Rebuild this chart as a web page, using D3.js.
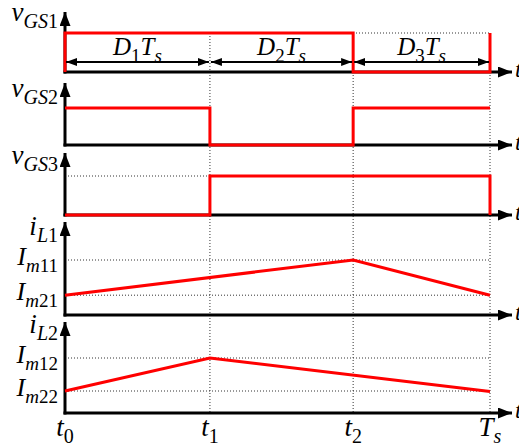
<!DOCTYPE html>
<html><head><meta charset="utf-8">
<script src="https://cdn.jsdelivr.net/npm/d3@7.9.0/dist/d3.min.js"></script>
<style>
body{margin:0;background:#fff}
</style></head><body>
<svg id="chart" width="519" height="445"></svg>
<script>
// switching instants over one period (fraction of Ts)
const tickNames = [["t","0"],["t","1"],["t","2"],["T","s"]];
const tickTimes = [0, 0.341, 0.678, 1];
const dutyNames = [["D","1"],["D","2"],["D","3"]];
// gate levels: before t0, from t0, from t1, from t2, at Ts
const vgs1 = [0, 1, 1, 0, 1];
const vgs2 = [1, 1, 0, 1, 1];
const vgs3 = [0, 0, 1, 1, 0];
// inductor currents, relative to their peak, at the listed instants
const iL1At = [0, 2, 3];
const iL1 = [0.36, 1, 0.36];
const iL2At = [0, 1, 3];
const iL2 = [0.4, 1, 0.39];
const iL1Levels = [["m11", 1], ["m21", 0.36]];
const iL2Levels = [["m12", 1], ["m22", 0.4]];

const svg = d3.select("#chart");
const x = d3.scaleLinear().domain([0, 1]).range([65, 490]);
const xEnd = 512;
const RED = "#ff0000";
const FONT = '"Liberation Serif", "Times New Roman", serif';

const defs = svg.append("defs");
function marker(id, w, h) {
  defs.append("marker").attr("id", id)
    .attr("viewBox", `0 0 ${w} ${h}`).attr("refX", w).attr("refY", h / 2)
    .attr("markerWidth", w).attr("markerHeight", h)
    .attr("markerUnits", "userSpaceOnUse").attr("orient", "auto-start-reverse")
    .append("path").attr("d", `M0,0L${w},${h / 2}L0,${h}Z`).attr("fill", "#000");
}
marker("ax", 14, 11);
marker("dim", 11, 8);

// italic letters, upright digits, subscripts dropped
function mathText(g, px, py, parts, size, subSize, anchor, drop) {
  const dy = drop || size * 0.3;
  const t = g.append("text").attr("x", px).attr("y", py)
    .style("font-family", FONT).attr("fill", "#000")
    .attr("font-size", size).attr("text-anchor", anchor || "start");
  let down = false;
  parts.forEach(([s, sub]) => {
    const chunks = s.match(/\d+|\D+/g);
    chunks.forEach((c, j) => {
      const ts = t.append("tspan").text(c)
        .style("font-style", /\d/.test(c) ? "normal" : "italic");
      if (sub) ts.attr("font-size", subSize);
      if (j === 0) {
        if (sub && !down) { ts.attr("dy", dy); down = true; }
        else if (!sub && down) { ts.attr("dy", -dy); down = false; }
      }
    });
  });
  return t;
}

const panels = [
  {type: "gate", data: vgs1, lab: [["v"], ["GS1", 1]], base: 72, top: 33, tip: 12, labY: 21, dotFull: true},
  {type: "gate", data: vgs2, lab: [["v"], ["GS2", 1]], base: 145, top: 108, tip: 83, labY: 97},
  {type: "gate", data: vgs3, lab: [["v"], ["GS3", 1]], base: 215, top: 176, tip: 153, labY: 164, dotFull: true},
  {type: "cur", at: iL1At, data: iL1, levels: iL1Levels, lab: [["i"], ["L1", 1]], base: 315, top: 260, tip: 222, labY: 235},
  {type: "cur", at: iL2At, data: iL2, levels: iL2Levels, lab: [["i"], ["L2", 1]], base: 413, top: 358, tip: 322, labY: 333}
];

const dot = "1,2";
// vertical guides
svg.append("g").selectAll("line").data(tickTimes.slice(1)).join("line")
  .attr("x1", d => x(d)).attr("x2", d => x(d)).attr("y1", 33).attr("y2", 413)
  .attr("stroke", "#333").attr("stroke-width", 1).attr("stroke-dasharray", dot);

panels.forEach(p => {
  const y = d3.scaleLinear().domain([0, 1]).range([p.base, p.top]);
  const g = svg.append("g");
  if (p.type === "gate" && p.dotFull) {
    g.append("line").attr("x1", x(0)).attr("x2", x(1)).attr("y1", y(1)).attr("y2", y(1))
      .attr("stroke", "#333").attr("stroke-dasharray", dot);
  }
  if (p.type === "cur") {
    g.selectAll("line.lv").data(p.levels).join("line").attr("class", "lv")
      .attr("x1", x(0)).attr("x2", x(1)).attr("y1", d => y(d[1])).attr("y2", d => y(d[1]))
      .attr("stroke", "#333").attr("stroke-dasharray", dot);
    p.levels.forEach(([s, v]) => mathText(g, 58, y(v) + 5, [["I"], [s, 1]], 26, 19, "end", 7));
  }
  // axes
  g.append("line").attr("x1", x(0)).attr("x2", x(0)).attr("y1", p.base + 1.5).attr("y2", p.tip)
    .attr("stroke", "#000").attr("stroke-width", 3).attr("marker-end", "url(#ax)");
  g.append("line").attr("x1", x(0) - 1.5).attr("x2", xEnd).attr("y1", p.base).attr("y2", p.base)
    .attr("stroke", "#000").attr("stroke-width", 3).attr("marker-end", "url(#ax)");
  mathText(g, 515, p.base + 5, [["t"]], 24, 18);
  mathText(g, 58, p.labY, p.lab, 27, 20, "end", 7);
  // signal
  let pts, line;
  if (p.type === "gate") {
    pts = [[0, p.data[0]]].concat(tickTimes.map((t, i) => [t, p.data[i + 1]]));
    line = d3.line().x(d => x(d[0])).y(d => y(d[1])).curve(d3.curveStepAfter);
  } else {
    pts = p.at.map((k, i) => [tickTimes[k], p.data[i]]);
    line = d3.line().x(d => x(d[0])).y(d => y(d[1]));
  }
  g.append("path").attr("d", line(pts))
    .attr("fill", "none").attr("stroke", RED).attr("stroke-width", 3);
});

// duty-cycle dimension arrows
const dimY = 62;
const dims = dutyNames.map((d, i) => ({name: d, a: tickTimes[i], b: tickTimes[i + 1]}));
const dg = svg.append("g");
dg.selectAll("line").data(dims).join("line")
  .attr("x1", d => x(d.a) + 1).attr("x2", d => x(d.b) - 1).attr("y1", dimY).attr("y2", dimY)
  .attr("stroke", "#000").attr("stroke-width", 2)
  .attr("marker-start", "url(#dim)").attr("marker-end", "url(#dim)");
dims.forEach(d => mathText(dg, (x(d.a) + x(d.b)) / 2, dimY - 7, [[d.name[0]], [d.name[1], 1], ["T"], ["s", 1]], 25, 19, "middle", 7));

// time tick labels
tickTimes.forEach((t, i) => mathText(svg, x(t), 436, [[tickNames[i][0]], [tickNames[i][1], 1]], 27, 20, "middle", 7));
</script>
</body></html>
